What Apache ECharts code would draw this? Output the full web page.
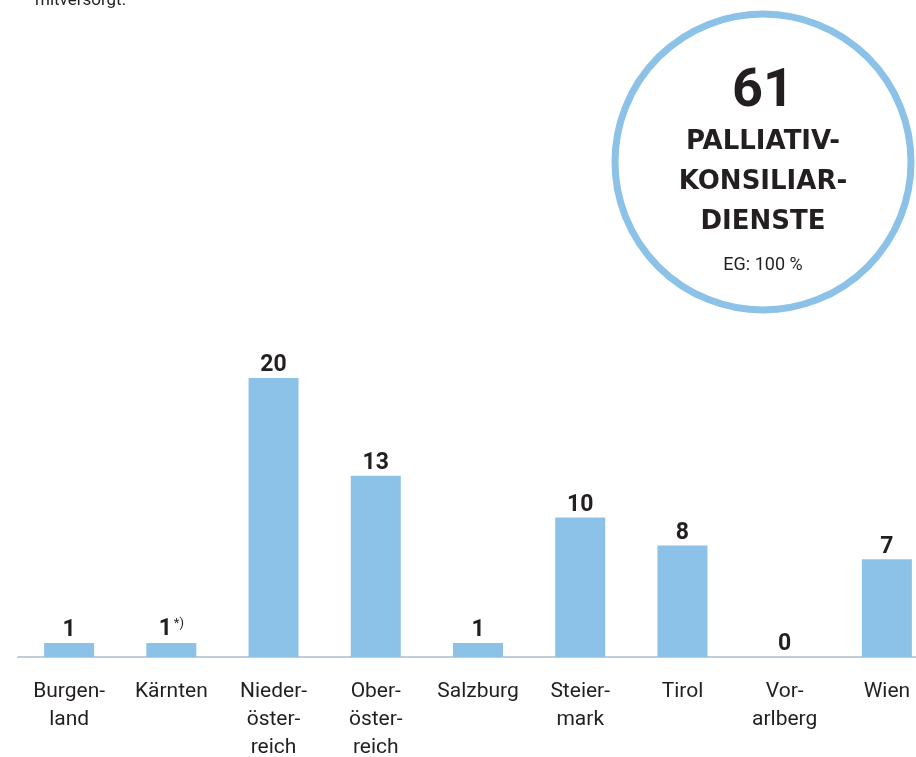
<!DOCTYPE html>
<html>
<head>
<meta charset="utf-8">
<script src="https://cdn.jsdelivr.net/npm/echarts@6/dist/echarts.min.js"></script>
<style>
html,body{margin:0;padding:0;background:#fff;}
#chart{width:916px;height:757px;}
</style>
</head>
<body>
<div id="chart"></div>
<script>
var categories = ['Burgen-\nland', 'Kärnten', 'Nieder-\nöster-\nreich', 'Ober-\nöster-\nreich', 'Salzburg', 'Steier-\nmark', 'Tirol', 'Vor-\narlberg', 'Wien'];
var values = [1, 1, 20, 13, 1, 10, 8, 0, 7];
var valueLabels = ['1', '1{s|*)}', '20', '13', '1', '10', '8', '0', '7'];
var totalValue = '61';
var titleLines = ['PALLIATIV-', 'KONSILIAR-', 'DIENSTE'];
var subText = 'EG: 100 %';
var topNote = 'mitversorgt.';

var barColor = '#8dc2e8';
var textColor = '#231f20';
var font = 'Roboto, "Noto Sans", sans-serif';

var chart = echarts.init(document.getElementById('chart'));
var cx = 763, cy = 162;
chart.setOption({
  animation: false,
  grid: {left: 18, top: 378, width: 920, height: 279, containLabel: false, outerBoundsMode: 'none'},
  xAxis: {
    type: 'category',
    data: categories,
    axisTick: {show: false},
    axisLine: {lineStyle: {color: '#c3ccd4', width: 2}},
    axisLabel: {color: textColor, fontSize: 21, fontFamily: font, lineHeight: 28, margin: 21, interval: 0}
  },
  yAxis: {type: 'value', min: 0, max: 20, show: false, splitLine: {show: false}},
  series: [{
    type: 'bar',
    data: values,
    barWidth: 50,
    itemStyle: {color: barColor},
    label: {
      show: true,
      position: 'top',
      distance: 1,
      color: textColor,
      fontSize: 23,
      fontWeight: 'bold',
      fontFamily: font,
      formatter: function (p) { return valueLabels[p.dataIndex]; },
      rich: {
        s: {fontSize: 13, fontWeight: 'normal', fontFamily: font, color: textColor, padding: [0, 0, 12, 2]}
      }
    }
  }],
  graphic: [
    {type: 'circle', shape: {cx: cx, cy: cy, r: 148}, style: {fill: '#fff', stroke: barColor, lineWidth: 7}},
    {type: 'text', x: cx, y: 92, style: {text: totalValue, fill: textColor, font: 'bold 54px ' + font, align: 'center', verticalAlign: 'middle'}},
    {type: 'text', x: cx, y: 142, style: {text: titleLines[0], fill: textColor, font: 'bold 26px "DejaVu Sans", ' + font, align: 'center', verticalAlign: 'middle'}},
    {type: 'text', x: cx, y: 182, style: {text: titleLines[1], fill: textColor, font: 'bold 26px "DejaVu Sans", ' + font, align: 'center', verticalAlign: 'middle'}},
    {type: 'text', x: cx, y: 222, style: {text: titleLines[2], fill: textColor, font: 'bold 26px "DejaVu Sans", ' + font, align: 'center', verticalAlign: 'middle'}},
    {type: 'text', x: cx, y: 265, style: {text: subText, fill: textColor, font: '18px ' + font, align: 'center', verticalAlign: 'middle'}},
    {type: 'text', x: 35, y: 9, style: {text: topNote, fill: textColor, font: '17px ' + font, align: 'left', verticalAlign: 'bottom'}}
  ]
});
</script>
</body>
</html>
